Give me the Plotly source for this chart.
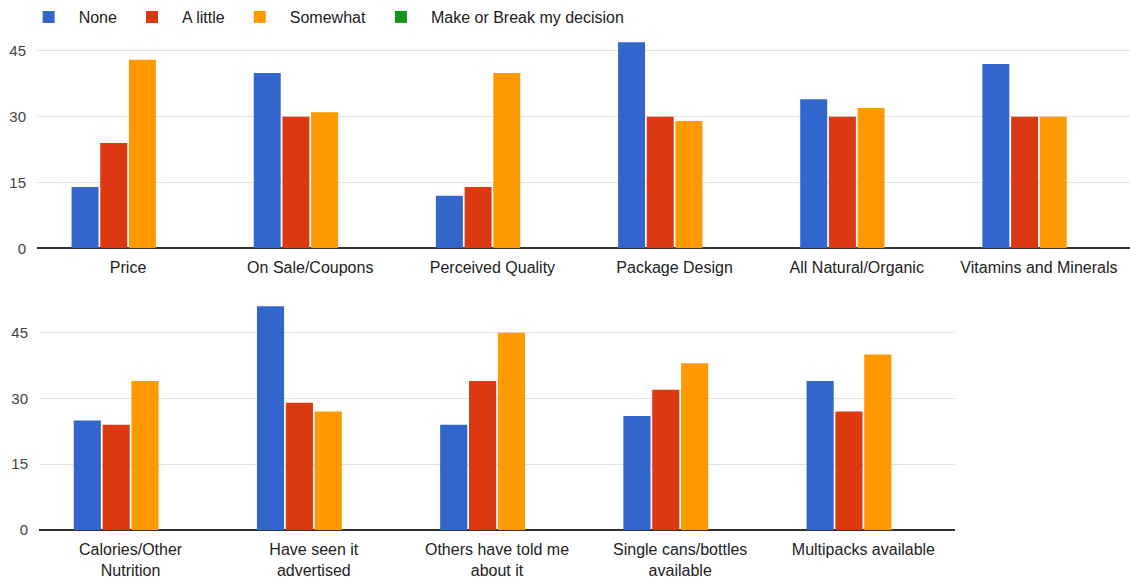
import plotly.graph_objects as go

# Series definitions (legend order)
series_names = ["None", "A little", "Somewhat", "Make or Break my decision"]
series_colors = ["#3366cc", "#dc3912", "#ff9900", "#109618"]

# Upper panel
top_categories = ["Price", "On Sale/Coupons", "Perceived Quality",
                  "Package Design", "All Natural/Organic", "Vitamins and Minerals"]
top_none = [14, 40, 12, 47, 34, 42]
top_a_little = [24, 30, 14, 30, 30, 30]
top_somewhat = [43, 31, 40, 29, 32, 30]
top_make_or_break = [0, 0, 0, 0, 0, 0]

# Lower panel
bottom_categories = ["Calories/Other<br>Nutrition", "Have seen it<br>advertised",
                     "Others have told me<br>about it", "Single cans/bottles<br>available",
                     "Multipacks available"]
bottom_none = [25, 51, 24, 26, 34]
bottom_a_little = [24, 29, 34, 32, 27]
bottom_somewhat = [34, 27, 45, 38, 40]
bottom_make_or_break = [0, 0, 0, 0, 0]

y_ticks = [0, 15, 30, 45]

W, H = 1130, 582
FONT = "Arial, Liberation Sans, sans-serif"

fig = go.Figure()

top_values = [top_none, top_a_little, top_somewhat, top_make_or_break]
bottom_values = [bottom_none, bottom_a_little, bottom_somewhat, bottom_make_or_break]

for name, color, vals in zip(series_names, series_colors, top_values):
    fig.add_trace(go.Bar(x=top_categories, y=vals, name=name, marker_color=color,
                         marker_line_width=0, xaxis="x", yaxis="y", legendgroup=name))
for name, color, vals in zip(series_names, series_colors, bottom_values):
    fig.add_trace(go.Bar(x=bottom_categories, y=vals, name=name, marker_color=color,
                         marker_line_width=0, xaxis="x2", yaxis="y2", legendgroup=name,
                         showlegend=False))

def px_x(p):
    return p / W

def px_y(p):
    return 1 - p / H

y_common = dict(
    tickvals=y_ticks, ticktext=[str(v) for v in y_ticks],
    showgrid=True, gridcolor="#e2e2e2", gridwidth=1,
    zeroline=True, zerolinecolor="#333333", zerolinewidth=2,
    showline=False, ticks="", ticklabelstandoff=10,
    tickfont=dict(family=FONT, size=15, color="#444444"),
    automargin=False, fixedrange=True,
)
x_common = dict(
    showgrid=False, zeroline=False, showline=False, ticks="",
    ticklabelstandoff=8,
    tickfont=dict(family=FONT, size=16, color="#222222"),
    automargin=False, fixedrange=True, tickangle=0,
)

fig.update_layout(
    width=W, height=H,
    margin=dict(l=0, r=0, t=0, b=0),
    paper_bgcolor="white", plot_bgcolor="white",
    barmode="group", bargap=0.37, bargroupgap=0.06,
    font=dict(family=FONT, color="#222222"),
    xaxis=dict(domain=[px_x(37), 1.0], anchor="y", **x_common),
    yaxis=dict(domain=[px_y(248.3), px_y(37.8)], range=[0, 48], anchor="x", **y_common),
    xaxis2=dict(domain=[px_x(39), px_x(955)], anchor="y2", **x_common),
    yaxis2=dict(domain=[px_y(530), px_y(297.6)], range=[0, 53], anchor="x2", **y_common),
    legend=dict(orientation="h", x=0.0165, y=1.0, xanchor="left", yanchor="top",
                font=dict(family=FONT, size=16, color="#222222"),
                itemwidth=50,
                bgcolor="rgba(0,0,0,0)", traceorder="normal"),
    showlegend=True,
)

fig.write_html("out.html")
